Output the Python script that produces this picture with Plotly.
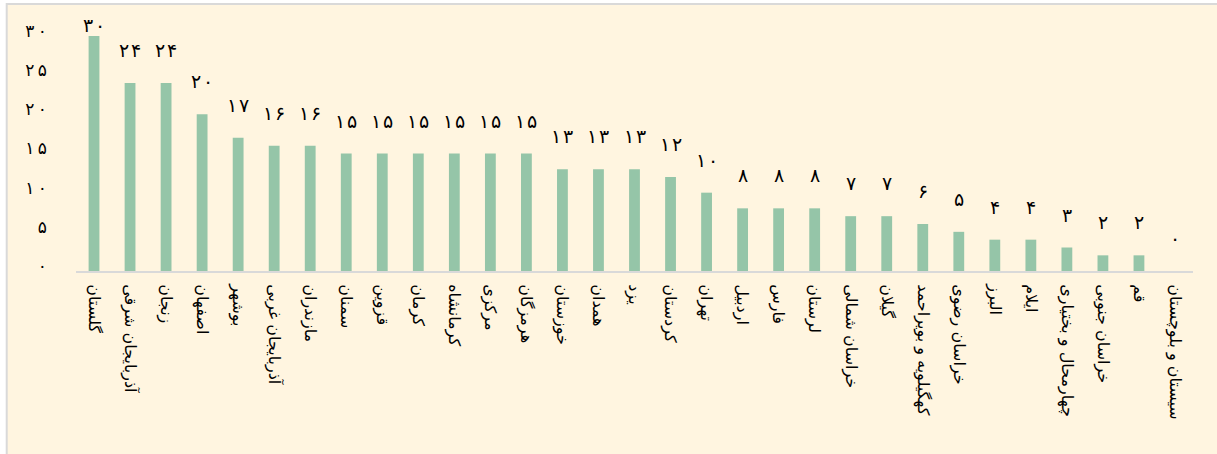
import plotly.graph_objects as go

provinces = [
    "گلستان", "آذربایجان شرقی", "زنجان", "اصفهان", "بوشهر", "آذربایجان غربی",
    "مازندران", "سمنان", "قزوین", "کرمان", "کرمانشاه", "مرکزی", "هرمزگان",
    "خوزستان", "همدان", "یزد", "کردستان", "تهران", "اردبیل", "فارس", "لرستان",
    "خراسان شمالی", "گیلان", "کهگیلویه و بویراحمد", "خراسان رضوی", "البرز",
    "ایلام", "چهارمحال و بختیاری", "خراسان جنوبی", "قم", "سیستان و بلوچستان",
]
values = [30, 24, 24, 20, 17, 16, 16, 15, 15, 15, 15, 15, 15, 13, 13, 13, 12,
          10, 8, 8, 8, 7, 7, 6, 5, 4, 4, 3, 2, 2, 0]
y_ticks = [0, 5, 10, 15, 20, 25, 30]

FA_DIGITS = str.maketrans("0123456789", "۰۱۲۳۴۵۶۷۸۹")


def fa(n):
    return str(n).translate(FA_DIGITS)


def spaced(n, sep="\u200a"):
    return sep.join(fa(n))


FONT = "DejaVu Sans"
BAR = "#95C5A8"
BG = "#FFF5E0"

L, R, T, B = 76, 24, 36, 183
W, H = 1217, 454
pw, ph = W - L - R, H - T - B
YMAX = 30

fig = go.Figure(
    go.Bar(
        x=provinces,
        y=values,
        marker=dict(color=BAR, line=dict(width=0)),
        width=0.30,
        hoverinfo="x+y",
    )
)

# value labels above the bars (kept inside the chart frame near the top)
LABEL_OFFSET = 33
for p, v in zip(provinces, values):
    bar_top_px = T + (YMAX - v) * ph / YMAX
    shift = min(LABEL_OFFSET, bar_top_px - 25)
    fig.add_annotation(
        x=p, y=v, xref="x", yref="y", text=spaced(v),
        showarrow=False, yanchor="middle", yshift=shift,
        font=dict(family=FONT, size=19, color="#000000"),
    )

# chart-area frame (only left and top edges visible in the reference)
fig.add_shape(
    type="rect", xref="paper", yref="paper", layer="below",
    x0=(6.7 - L) / pw, x1=(W + 10 - L) / pw,
    y0=-(B + 10) / ph, y1=(H - B - 4) / ph,
    fillcolor=BG, line=dict(color="#D9D9D9", width=2),
)

fig.update_layout(
    width=W, height=H,
    margin=dict(l=L, r=R, t=T, b=B, autoexpand=False),
    paper_bgcolor="#FFFFFF",
    plot_bgcolor=BG,
    showlegend=False,
    font=dict(family=FONT, color="#000000"),
    xaxis=dict(
        showline=True, linecolor="#D9D9D9", linewidth=2,
        ticks="", tickangle=90, showgrid=False, automargin=False,
        ticklabelstandoff=8,
        tickfont=dict(family=FONT, size=16, color="#000000"),
    ),
    yaxis=dict(
        range=[0, YMAX], showgrid=False, zeroline=False, showline=False,
        automargin=False,
        tickvals=y_ticks, ticktext=[spaced(v, "\u2009") for v in y_ticks],
        tickfont=dict(family=FONT, size=17, color="#000000"),
        ticklabelstandoff=28,
        ticklabelshift=-5,
    ),
)

fig.write_html(
    "out.html",
    config={"displayModeBar": False},
    post_script="document.body.style.margin='0';document.body.style.padding='0';",
)
